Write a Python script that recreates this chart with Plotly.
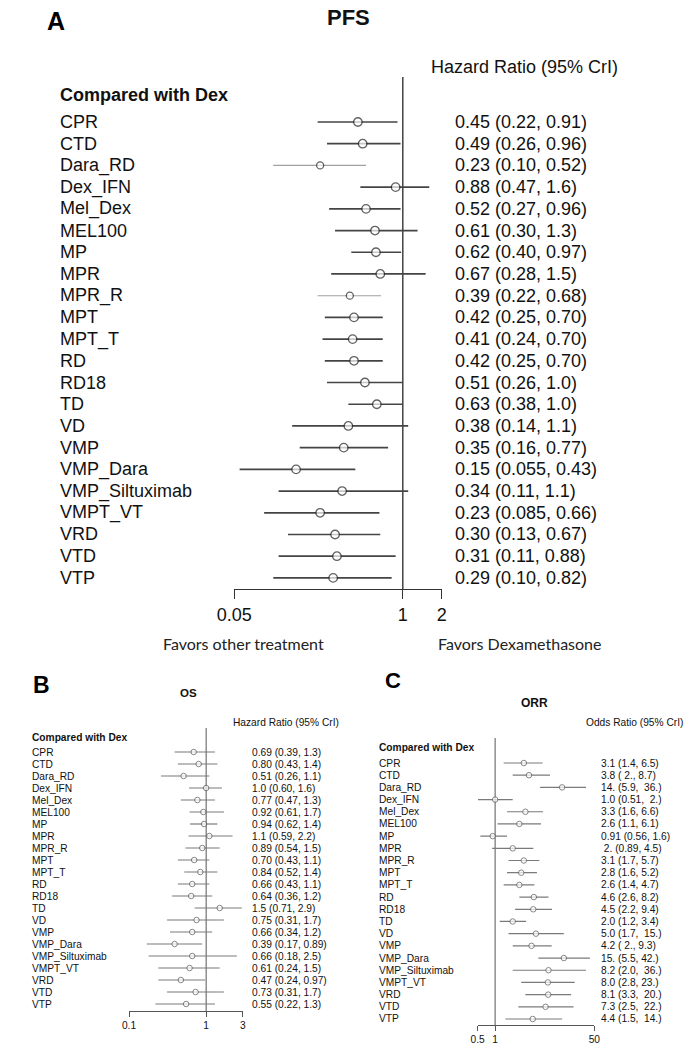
import math
import plotly.graph_objects as go

treatments = ["CPR", "CTD", "Dara_RD", "Dex_IFN", "Mel_Dex", "MEL100", "MP", "MPR", "MPR_R",
              "MPT", "MPT_T", "RD", "RD18", "TD", "VD", "VMP", "VMP_Dara", "VMP_Siltuximab",
              "VMPT_VT", "VRD", "VTD", "VTP"]

# Panel A: PFS hazard ratios
pfs_hr = [0.45, 0.49, 0.23, 0.88, 0.52, 0.61, 0.62, 0.67, 0.39, 0.42, 0.41, 0.42, 0.51, 0.63,
          0.38, 0.35, 0.15, 0.34, 0.23, 0.30, 0.31, 0.29]
pfs_lo = [0.22, 0.26, 0.10, 0.47, 0.27, 0.30, 0.40, 0.28, 0.22, 0.25, 0.24, 0.25, 0.26, 0.38,
          0.14, 0.16, 0.055, 0.11, 0.085, 0.13, 0.11, 0.10]
pfs_hi = [0.91, 0.96, 0.52, 1.6, 0.96, 1.3, 0.97, 1.5, 0.68, 0.70, 0.70, 0.70, 1.0, 1.0,
          1.1, 0.77, 0.43, 1.1, 0.66, 0.67, 0.88, 0.82]
pfs_text = ["0.45 (0.22, 0.91)", "0.49 (0.26, 0.96)", "0.23 (0.10, 0.52)", "0.88 (0.47, 1.6)",
            "0.52 (0.27, 0.96)", "0.61 (0.30, 1.3)", "0.62 (0.40, 0.97)", "0.67 (0.28, 1.5)",
            "0.39 (0.22, 0.68)", "0.42 (0.25, 0.70)", "0.41 (0.24, 0.70)", "0.42 (0.25, 0.70)",
            "0.51 (0.26, 1.0)", "0.63 (0.38, 1.0)", "0.38 (0.14, 1.1)", "0.35 (0.16, 0.77)",
            "0.15 (0.055, 0.43)", "0.34 (0.11, 1.1)", "0.23 (0.085, 0.66)", "0.30 (0.13, 0.67)",
            "0.31 (0.11, 0.88)", "0.29 (0.10, 0.82)"]
pfs_ticks = [0.05, 1, 2]

# Panel B: OS hazard ratios
os_hr = [0.69, 0.80, 0.51, 1.0, 0.77, 0.92, 0.94, 1.1, 0.89, 0.70, 0.84, 0.66, 0.64, 1.5,
         0.75, 0.66, 0.39, 0.66, 0.61, 0.47, 0.73, 0.55]
os_lo = [0.39, 0.43, 0.26, 0.60, 0.47, 0.61, 0.62, 0.59, 0.54, 0.43, 0.52, 0.43, 0.36, 0.71,
         0.31, 0.34, 0.17, 0.18, 0.24, 0.24, 0.31, 0.22]
os_hi = [1.3, 1.4, 1.1, 1.6, 1.3, 1.7, 1.4, 2.2, 1.5, 1.1, 1.4, 1.1, 1.2, 2.9,
         1.7, 1.2, 0.89, 2.5, 1.5, 0.97, 1.7, 1.3]
os_text = ["0.69 (0.39, 1.3)", "0.80 (0.43, 1.4)", "0.51 (0.26, 1.1)", "1.0 (0.60, 1.6)",
           "0.77 (0.47, 1.3)", "0.92 (0.61, 1.7)", "0.94 (0.62, 1.4)", "1.1 (0.59, 2.2)",
           "0.89 (0.54, 1.5)", "0.70 (0.43, 1.1)", "0.84 (0.52, 1.4)", "0.66 (0.43, 1.1)",
           "0.64 (0.36, 1.2)", "1.5 (0.71, 2.9)", "0.75 (0.31, 1.7)", "0.66 (0.34, 1.2)",
           "0.39 (0.17, 0.89)", "0.66 (0.18, 2.5)", "0.61 (0.24, 1.5)", "0.47 (0.24, 0.97)",
           "0.73 (0.31, 1.7)", "0.55 (0.22, 1.3)"]
os_ticks = [0.1, 1, 3]

# Panel C: ORR odds ratios
orr_or = [3.1, 3.8, 14, 1.0, 3.3, 2.6, 0.91, 2, 3.1, 2.8, 2.6, 4.6, 4.5, 2.0,
          5.0, 4.2, 15, 8.2, 8.0, 8.1, 7.3, 4.4]
orr_lo = [1.4, 2, 5.9, 0.51, 1.6, 1.1, 0.56, 0.89, 1.7, 1.6, 1.4, 2.6, 2.2, 1.2,
          1.7, 2, 5.5, 2.0, 2.8, 3.3, 2.5, 1.5]
orr_hi = [6.5, 8.7, 36, 2, 6.6, 6.1, 1.6, 4.5, 5.7, 5.2, 4.7, 8.2, 9.4, 3.4,
          15, 9.3, 42, 36, 23, 20, 22, 14]
orr_text = ["3.1 (1.4, 6.5)", "3.8 ( 2., 8.7)", "14. (5.9,  36.)", "1.0 (0.51,  2.)",
            "3.3 (1.6, 6.6)", "2.6 (1.1, 6.1)", "0.91 (0.56, 1.6)", " 2. (0.89, 4.5)",
            "3.1 (1.7, 5.7)", "2.8 (1.6, 5.2)", "2.6 (1.4, 4.7)", "4.6 (2.6, 8.2)",
            "4.5 (2.2, 9.4)", "2.0 (1.2, 3.4)", "5.0 (1.7,  15.)", "4.2 ( 2., 9.3)",
            "15. (5.5, 42.)", "8.2 (2.0,  36.)", "8.0 (2.8, 23.)", "8.1 (3.3,  20.)",
            "7.3 (2.5,  22.)", "4.4 (1.5,  14.)"]
orr_ticks = [0.5, 1, 50]

W, H = 694, 1050
ARIAL = "Liberation Sans, Arial, sans-serif"
CAL = "Lato, Carlito, Calibri, sans-serif"

fig = go.Figure()
annotations = []
shapes = []


def px_x(p):
    return p / W


def px_y(p):
    return 1 - p / H


def nb(s):
    return s.replace(" ", "\u00a0")


def add_panel(k, est, lo, hi, texts, ticks, g):
    xa = "xaxis" if k == 1 else f"xaxis{k}"
    ya = "yaxis" if k == 1 else f"yaxis{k}"
    xr = "x" if k == 1 else f"x{k}"
    yr = "y" if k == 1 else f"y{k}"
    n = len(treatments)
    rows = list(range(n))
    top_i = (g["ytop"] - g["row0"]) / g["dy"]
    bot_i = (g["ybot"] - g["row0"]) / g["dy"]
    for i in rows:
        light = g.get("light") and treatments[i] in g["light"]
        fig.add_trace(go.Scatter(
            x=[lo[i], hi[i]], y=[i, i], mode="lines", xaxis=xr, yaxis=yr,
            line=dict(color=g["light_col"] if light else g["ci_col"],
                      width=g["light_w"] if light else g["ci_w"]),
            showlegend=False, hoverinfo="skip"))
    sizes = [g["msize"] - (1.5 if (g.get("light") and t in g["light"]) else 0) for t in treatments]
    fig.add_trace(go.Scatter(
        x=est, y=rows, mode="markers", xaxis=xr, yaxis=yr,
        marker=dict(symbol="circle", size=sizes, color="white",
                    line=dict(color=g["mcol"], width=g["mlw"])),
        showlegend=False, text=treatments))
    shapes.append(dict(type="line", xref=xr, x0=1, x1=1, yref=f"{yr} domain", y0=0, y1=1,
                       line=dict(color=g["ref_col"], width=g["ref_w"]), layer="below"))
    fig.update_layout(**{
        xa: dict(type="log", domain=[px_x(g["xl"]), px_x(g["xr"])],
                 range=[math.log10(ticks[0]), math.log10(ticks[-1])],
                 anchor=yr, showline=True, linecolor=g["ax_col"], linewidth=g["ax_w"],
                 ticks="outside", ticklen=g["ticklen"], tickcolor=g["ax_col"], tickwidth=g["ax_w"],
                 tickvals=ticks, ticktext=[str(t) for t in ticks], showgrid=False, zeroline=False,
                 tickfont=dict(family=ARIAL, size=g["fs"], color="#111")),
        ya: dict(domain=[px_y(g["ybot"]), px_y(g["ytop"])], range=[bot_i, top_i],
                 visible=False, anchor=xr, showgrid=False, zeroline=False),
    })
    for i in rows:
        annotations.append(dict(xref="paper", yref=yr, x=px_x(g["lab_x"]), y=i, text=treatments[i],
                                xanchor="left", yanchor="middle", showarrow=False, borderpad=0,
                                font=dict(family=ARIAL, size=g["fs"], color="#111")))
        annotations.append(dict(xref="paper", yref=yr, x=px_x(g["val_x"]), y=i, text=nb(texts[i]),
                                xanchor="left", yanchor="middle", showarrow=False, borderpad=0,
                                font=dict(family=ARIAL, size=g["fs"], color="#111")))
    annotations.append(dict(xref="paper", yref="paper", x=px_x(g["lab_x"]), y=px_y(g["cmp_y"]),
                            text="<b>Compared with Dex</b>", xanchor="left", yanchor="middle",
                            showarrow=False, borderpad=0,
                            font=dict(family=ARIAL, size=g["fs"], color="#111")))
    annotations.append(dict(xref="paper", yref="paper", x=px_x(g["hdr_x"]), y=px_y(g["hdr_y"]),
                            text=g["hdr"], xanchor="center", yanchor="middle",
                            showarrow=False, font=dict(family=ARIAL, size=g["fs"], color="#111")))
    annotations.append(dict(xref="paper", yref="paper", x=px_x(g["title_x"]), y=px_y(g["title_y"]),
                            text=f"<b>{g['title']}</b>", xanchor="center", yanchor="middle",
                            showarrow=False, borderpad=0,
                            font=dict(family=ARIAL, size=g["tfs"], color="#111")))
    annotations.append(dict(xref="paper", yref="paper", x=px_x(g["let_x"]), y=px_y(g["let_y"]),
                            text=f"<b>{g['letter']}</b>", xanchor="center", yanchor="middle",
                            showarrow=False, borderpad=0,
                            font=dict(family=ARIAL, size=g["lfs"], color="#000")))


geo_a = dict(xl=224, xr=439, ytop=77, ybot=589, row0=122, dy=21.71, lab_x=42.5, val_x=451.5,
             fs=18, tfs=22, lfs=25, ci_col="#444", ci_w=1.7, light_col="#a0a0a0",
             light_w=1.1, light={"Dara_RD", "MPR_R"}, msize=8.5, mcol="#222", mlw=1.3,
             ref_col="#333", ref_w=1.4, ax_col="#333", ax_w=1.3, ticklen=9,
             cmp_y=95, hdr="Hazard Ratio (95% CrI)", hdr_x=524.5, hdr_y=67,
             title="PFS", title_x=342, title_y=18, letter="A", let_x=39, let_y=21)
geo_b = dict(xl=115, xr=233, ytop=728, ybot=1011, row0=752, dy=12.0, lab_x=13, val_x=241,
             fs=10.2, tfs=11.5, lfs=23, ci_col="#7a7a7a", ci_w=1.2, light_col="#7a7a7a",
             light_w=1.2, light=None, msize=5.5, mcol="#555", mlw=1,
             ref_col="#555", ref_w=1, ax_col="#555", ax_w=1, ticklen=5,
             cmp_y=737, hdr="Hazard Ratio (95% CrI)", hdr_x=277.5, hdr_y=722,
             title="OS", title_x=177, title_y=693, letter="B", let_x=24, let_y=685)
geo_c = dict(xl=476, xr=597, ytop=738, ybot=1025, row0=763, dy=12.19, lab_x=373, val_x=603,
             fs=10.2, tfs=12, lfs=22, ci_col="#7a7a7a", ci_w=1.2, light_col="#7a7a7a",
             light_w=1.2, light=None, msize=5.5, mcol="#555", mlw=1,
             ref_col="#555", ref_w=1, ax_col="#555", ax_w=1, ticklen=5,
             cmp_y=747, hdr="Odds Ratio (95% CrI)", hdr_x=638.5, hdr_y=722,
             title="ORR", title_x=535, title_y=703, letter="C", let_x=388, let_y=680)

add_panel(1, pfs_hr, pfs_lo, pfs_hi, pfs_text, pfs_ticks, geo_a)
add_panel(2, os_hr, os_lo, os_hi, os_text, os_ticks, geo_b)
add_panel(3, orr_or, orr_lo, orr_hi, orr_text, orr_ticks, geo_c)

annotations.append(dict(xref="paper", yref="paper", x=px_x(234), y=px_y(643),
                        text="Favors other treatment", xanchor="center", yanchor="middle",
                        showarrow=False, font=dict(family=CAL, size=16, color="#222")))
annotations.append(dict(xref="paper", yref="paper", x=px_x(519.5), y=px_y(643),
                        text="Favors Dexamethasone", xanchor="center", yanchor="middle",
                        showarrow=False, font=dict(family=CAL, size=16, color="#222")))

fig.update_layout(width=W, height=H, margin=dict(l=0, r=0, t=0, b=0),
                  paper_bgcolor="white", plot_bgcolor="white",
                  annotations=annotations, shapes=shapes, showlegend=False)

fig.write_html("out.html", config={"displayModeBar": False},
               post_script="document.body.style.margin='0px';document.body.style.overflow='hidden';")
